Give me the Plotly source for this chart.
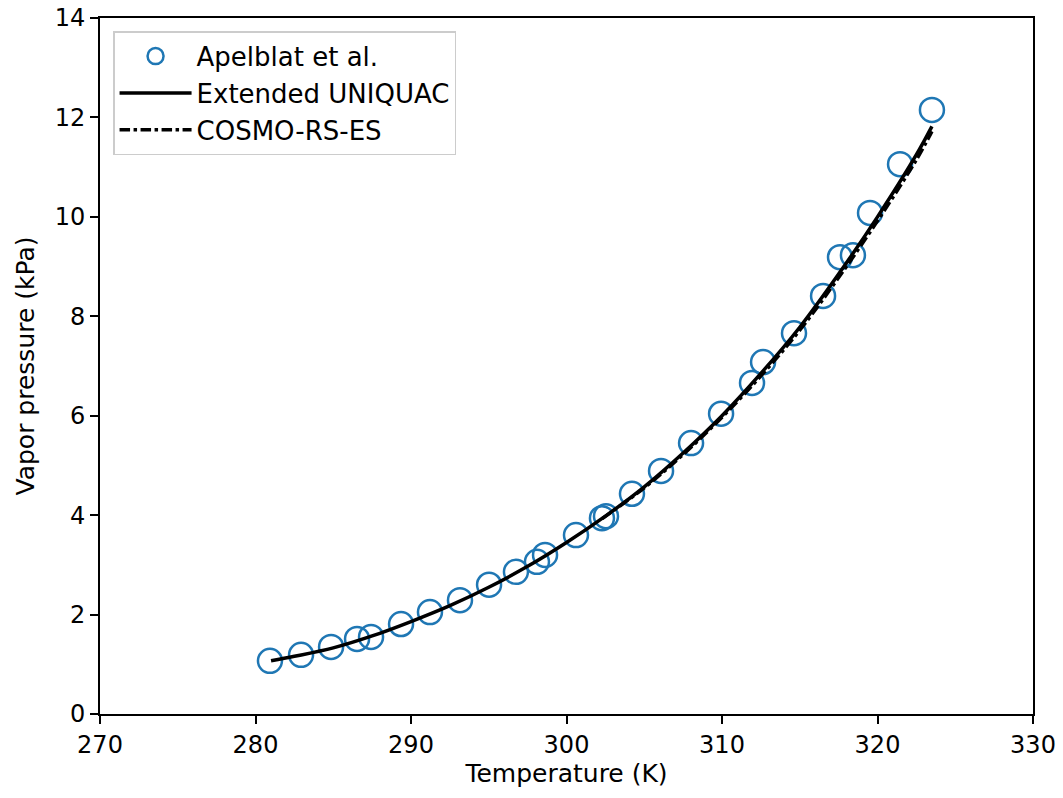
import plotly.graph_objects as go

# Experimental data (Apelblat et al.)
T_exp = [280.93, 282.93, 284.86, 286.53, 287.43, 289.36, 291.22, 293.15, 295.02,
         296.75, 298.10, 298.62, 300.61, 302.28, 302.54, 304.21, 306.08, 308.01,
         309.94, 311.93, 312.64, 314.63, 316.50, 317.59, 318.42, 319.52, 321.45, 323.50]
P_exp = [1.07, 1.19, 1.35, 1.51, 1.55, 1.81, 2.05, 2.29, 2.60,
         2.86, 3.06, 3.20, 3.60, 3.94, 3.98, 4.43, 4.89, 5.45,
         6.04, 6.66, 7.08, 7.66, 8.41, 9.19, 9.23, 10.08, 11.06, 12.15]

# Extended UNIQUAC model curve
T_uniquac = [281.0, 282.5, 285.0, 287.5, 290.0, 292.5, 295.0, 297.5, 300.0, 302.5,
             305.0, 307.5, 310.0, 312.5, 315.0, 317.5, 320.0, 322.5, 323.5]
P_uniquac = [1.07, 1.16, 1.33, 1.57, 1.86, 2.18, 2.55, 2.97, 3.45, 3.98,
             4.57, 5.25, 6.00, 6.85, 7.78, 8.85, 10.00, 11.25, 11.82]

# COSMO-RS-ES model curve
T_cosmo = [302.3, 305.0, 307.5, 310.0, 312.5, 315.0, 317.5, 320.0, 322.5, 323.5]
P_cosmo = [3.93, 4.55, 5.22, 5.97, 6.80, 7.72, 8.78, 9.92, 11.15, 11.72]

x_ticks = [270, 280, 290, 300, 310, 320, 330]
y_ticks = [0, 2, 4, 6, 8, 10, 12, 14]

fig = go.Figure()
fig.add_trace(go.Scatter(
    x=T_exp, y=P_exp, mode="markers", name="Apelblat et al.",
    marker=dict(symbol="circle-open", size=24, color="#1f77b4", line=dict(width=2.5, color="#1f77b4")),
))
fig.add_trace(go.Scatter(
    x=T_uniquac, y=P_uniquac, mode="lines", name="Extended UNIQUAC",
    line=dict(color="black", width=3.5, shape="spline"),
))
fig.add_trace(go.Scatter(
    x=T_cosmo, y=P_cosmo, mode="lines", name="COSMO-RS-ES",
    line=dict(color="black", width=3.5, dash="dashdot", shape="spline"),
))

axis_common = dict(
    showline=True, linecolor="black", linewidth=1.8, mirror=True,
    ticks="outside", ticklen=8, tickwidth=1.8, tickcolor="black",
    showgrid=False, zeroline=False, ticklabeloverflow="allow", automargin=False,
    tickfont=dict(family="DejaVu Sans", size=24, color="black"),
)

fig.update_layout(
    width=1063, height=798,
    margin=dict(l=100, r=30, t=18, b=84),
    paper_bgcolor="white", plot_bgcolor="white",
    font=dict(family="DejaVu Sans", size=24, color="black"),
    xaxis=dict(range=[270, 330], tickvals=x_ticks,
               title=dict(text="Temperature (K)", font=dict(size=25), standoff=6),
               **axis_common),
    yaxis=dict(range=[0, 14], tickvals=y_ticks,
               title=dict(text="Vapor pressure (kPa)", font=dict(size=25), standoff=13),
               **axis_common),
    legend=dict(x=0.014, y=0.981, xanchor="left", yanchor="top",
                bgcolor="rgba(255,255,255,0.9)", bordercolor="#cccccc", borderwidth=1.5,
                font=dict(family="DejaVu Sans", size=26, color="black"),
                itemwidth=72),
    showlegend=True,
)

fig.write_html("out.html", config={"displayModeBar": False},
               post_script="document.body.style.margin='0';")
